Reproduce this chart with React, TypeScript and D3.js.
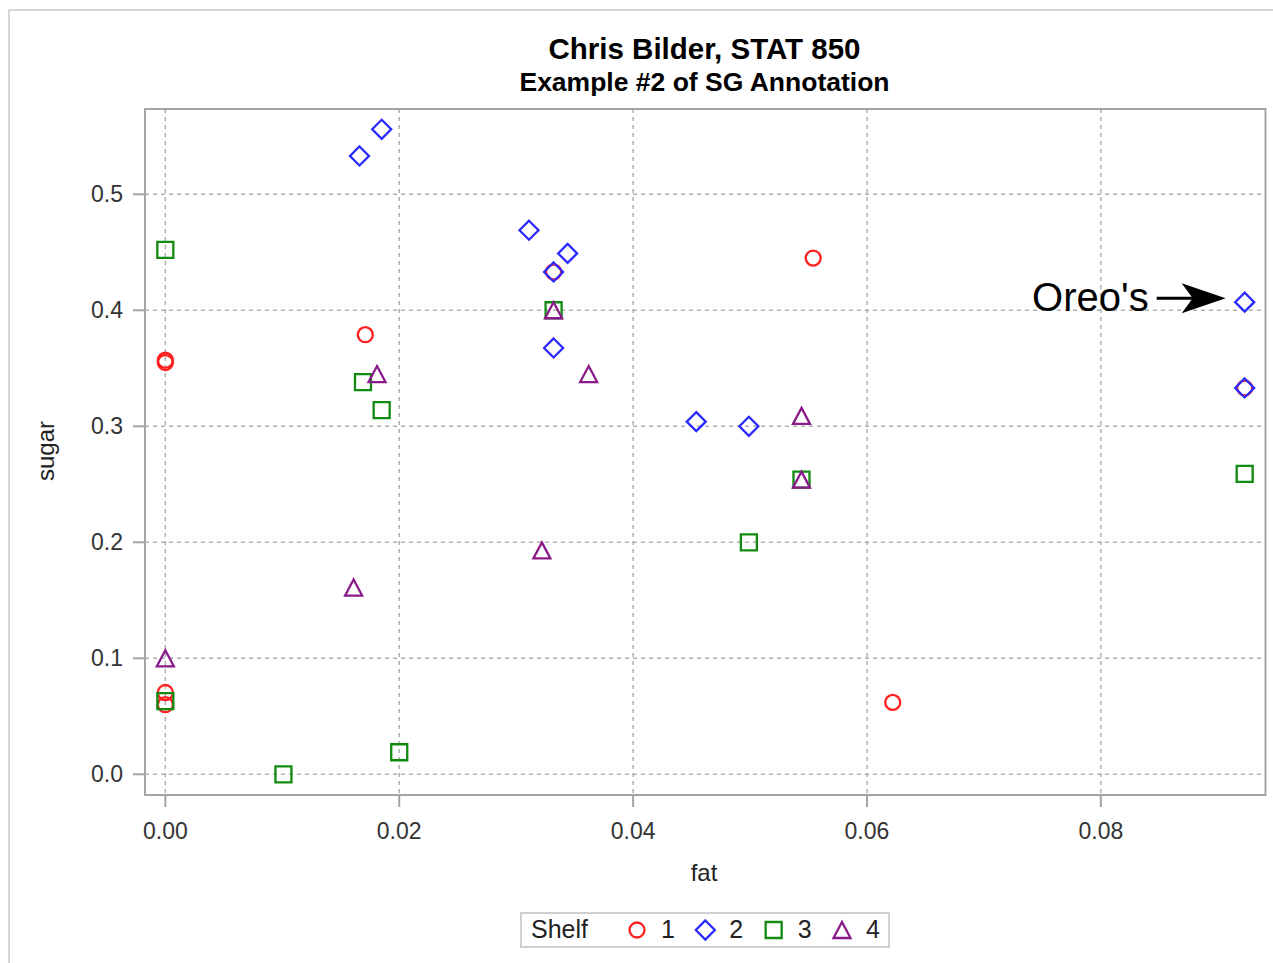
import React, { useEffect, useRef } from 'react'
import * as d3 from 'd3'

// shelf 1..4, fat vs sugar (per gram)
const shelves = ['1', '2', '3', '4']
const fat1 = [0, 0, 0.0171, 0.0332, 0.0554, 0.0622, 0, 0, 0.0923]
const sugar1 = [0.357, 0.355, 0.379, 0.433, 0.445, 0.062, 0.0705, 0.060, 0.333]
const fat2 = [0.0166, 0.0185, 0.0311, 0.0344, 0.0332, 0.0332, 0.0454, 0.0499, 0.0923, 0.0923]
const sugar2 = [0.533, 0.556, 0.469, 0.449, 0.433, 0.3675, 0.304, 0.300, 0.407, 0.333]
const fat3 = [0, 0.0169, 0.0185, 0.0332, 0.0544, 0.0499, 0.0923, 0.0101, 0.0200, 0]
const sugar3 = [0.452, 0.338, 0.314, 0.400, 0.254, 0.200, 0.259, 0, 0.019, 0.063]
const fat4 = [0.0181, 0.0332, 0.0362, 0.0544, 0.0544, 0.0161, 0.0322, 0]
const sugar4 = [0.345, 0.400, 0.345, 0.309, 0.254, 0.161, 0.193, 0.100]
const xTicks = [0, 0.02, 0.04, 0.06, 0.08]
const yTicks = [0, 0.1, 0.2, 0.3, 0.4, 0.5]
// the annotated point
const oreoFat = 0.0923
const oreoSugar = 0.407

const colors = ['#ff1f1f', '#2a2aff', '#128a12', '#8a1a8a']
const shapes = ['circle', 'diamond', 'square', 'triangle']
const FONT = 'Arial, "Liberation Sans", sans-serif'

function markerPath(shape: string) {
  if (shape === 'circle') return d3.arc()({ innerRadius: 0, outerRadius: 7.5, startAngle: 0, endAngle: 2 * Math.PI } as any) as string
  if (shape === 'diamond') return 'M0,-9.5L9.5,0L0,9.5L-9.5,0Z'
  if (shape === 'square') return 'M-8,-8H8V8H-8Z'
  return 'M0,-8L8.5,8H-8.5Z'
}

export default function App() {
  const ref = useRef<SVGSVGElement>(null)
  useEffect(() => {
    const svg = d3.select(ref.current)
    svg.selectAll('*').remove()
    const left = 145, right = 1265.5, top = 109, bottom = 795
    const x = d3.scaleLinear().domain([-0.00174, 0.09408]).range([left, right])
    const y = d3.scaleLinear().domain([-0.01784, 0.5735]).range([bottom, top])

    // outer border
    svg.append('path').attr('d', 'M9,963V10H1273').attr('fill', 'none')
      .attr('stroke', '#d6d6d6').attr('stroke-width', 2)

    svg.append('text').text('Chris Bilder, STAT 850')
      .attr('x', 704.5).attr('y', 59).attr('text-anchor', 'middle')
      .attr('font-family', FONT).attr('font-weight', 'bold').attr('font-size', 29.5)
    svg.append('text').text('Example #2 of SG Annotation')
      .attr('x', 704.5).attr('y', 91).attr('text-anchor', 'middle')
      .attr('font-family', FONT).attr('font-weight', 'bold').attr('font-size', 26.5)

    // grid
    const g = svg.append('g')
    g.selectAll('.gx').data(xTicks).enter().append('line')
      .attr('x1', d => x(d)).attr('x2', d => x(d)).attr('y1', top).attr('y2', bottom)
      .attr('stroke', '#b0b0b0').attr('stroke-width', 1.5).attr('stroke-dasharray', '4,4')
    g.selectAll('.gy').data(yTicks).enter().append('line')
      .attr('y1', d => y(d)).attr('y2', d => y(d)).attr('x1', left).attr('x2', right)
      .attr('stroke', '#b0b0b0').attr('stroke-width', 1.5).attr('stroke-dasharray', '4,4')

    // frame + ticks
    g.append('rect').attr('x', left).attr('y', top).attr('width', right - left).attr('height', bottom - top)
      .attr('fill', 'none').attr('stroke', '#a4a4a4').attr('stroke-width', 2)
    g.selectAll('.tx').data(xTicks).enter().append('line')
      .attr('x1', d => x(d)).attr('x2', d => x(d)).attr('y1', bottom).attr('y2', bottom + 12)
      .attr('stroke', '#a4a4a4').attr('stroke-width', 2)
    g.selectAll('.ty').data(yTicks).enter().append('line')
      .attr('y1', d => y(d)).attr('y2', d => y(d)).attr('x1', left - 12).attr('x2', left)
      .attr('stroke', '#a4a4a4').attr('stroke-width', 2)
    g.selectAll('.lx').data(xTicks).enter().append('text')
      .text(d => d3.format('.2f')(d))
      .attr('x', d => x(d)).attr('y', 839).attr('text-anchor', 'middle')
      .attr('font-family', FONT).attr('font-size', 23).attr('fill', '#333')
    g.selectAll('.ly').data(yTicks).enter().append('text')
      .text(d => d3.format('.1f')(d))
      .attr('x', 123).attr('y', d => y(d)).attr('text-anchor', 'end').attr('dy', '0.35em')
      .attr('font-family', FONT).attr('font-size', 23).attr('fill', '#333')
    g.append('text').text('fat').attr('x', 704).attr('y', 881).attr('text-anchor', 'middle')
      .attr('font-family', FONT).attr('font-size', 24).attr('fill', '#222')
    g.append('text').text('sugar').attr('transform', 'translate(54,451) rotate(-90)').attr('text-anchor', 'middle')
      .attr('font-family', FONT).attr('font-size', 24).attr('fill', '#222')

    // points, one group per shelf
    const fats = [fat1, fat2, fat3, fat4]
    const sugars = [sugar1, sugar2, sugar3, sugar4]
    shelves.forEach((s, i) => {
      const pts = fats[i].map((f, j) => [f, sugars[i][j]])
      g.append('g').selectAll('path').data(pts).enter().append('path')
        .attr('d', markerPath(shapes[i]))
        .attr('transform', d => 'translate(' + x(d[0]) + ',' + y(d[1]) + ')')
        .attr('fill', 'none').attr('stroke', colors[i]).attr('stroke-width', 2.3)
    })

    // annotation
    const ax = x(oreoFat) - 19, ay = y(oreoSugar) - 4
    g.append('line').attr('x1', ax - 69).attr('x2', ax - 20).attr('y1', ay).attr('y2', ay)
      .attr('stroke', '#000').attr('stroke-width', 3)
    g.append('path').attr('d', 'M' + ax + ',' + ay + 'L' + (ax - 44) + ',' + (ay - 15) + 'L' + (ax - 33) + ',' + ay + 'L' + (ax - 44) + ',' + (ay + 15) + 'Z')
      .attr('fill', '#000')
    g.append('text').text("Oreo's").attr('x', ax - 77).attr('y', ay + 13).attr('text-anchor', 'end')
      .attr('font-family', FONT).attr('font-size', 40).attr('fill', '#000')

    // legend
    const lg = svg.append('g')
    lg.append('rect').attr('x', 521).attr('y', 913).attr('width', 368).attr('height', 34)
      .attr('fill', 'none').attr('stroke', '#cfcfcf').attr('stroke-width', 2)
    lg.append('text').text('Shelf').attr('x', 531).attr('y', 938)
      .attr('font-family', FONT).attr('font-size', 25).attr('fill', '#222')
    const lx = d3.scalePoint().domain(shelves).range([637, 842])
    shelves.forEach((s, i) => {
      lg.append('path').attr('d', markerPath(shapes[i]))
        .attr('transform', 'translate(' + lx(s) + ',930)')
        .attr('fill', 'none').attr('stroke', colors[i]).attr('stroke-width', 2.3)
      lg.append('text').text(s).attr('x', (lx(s) as number) + 24).attr('y', 938)
        .attr('font-family', FONT).attr('font-size', 25).attr('fill', '#222')
    })
  }, [])
  return (
    <svg ref={ref} width={1273} height={963} style={{ position: 'absolute', left: 0, top: 0, background: '#fff' }} />
  )
}
